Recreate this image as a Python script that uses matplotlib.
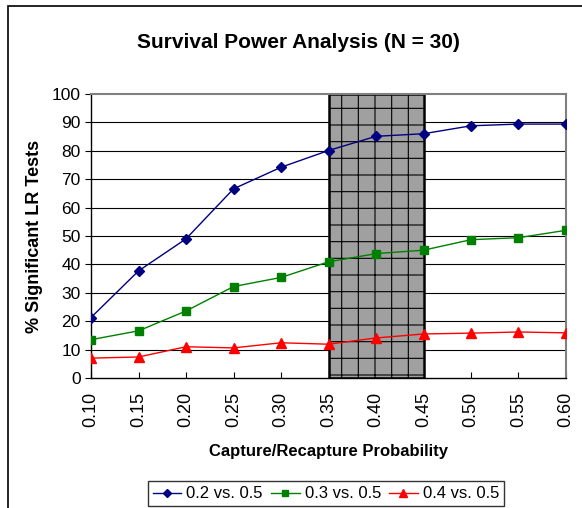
import matplotlib
matplotlib.use('Agg')
import matplotlib.pyplot as plt
from matplotlib.patches import Rectangle

plt.rcParams['font.family'] = ['Liberation Sans', 'DejaVu Sans']
plt.rcParams['hatch.linewidth'] = 0.8

# capture/recapture probability
prob = [0.10, 0.15, 0.20, 0.25, 0.30, 0.35, 0.40, 0.45, 0.50, 0.55, 0.60]
xlabels = ['0.10', '0.15', '0.20', '0.25', '0.30', '0.35', '0.40', '0.45', '0.50', '0.55', '0.60']

# % significant LR tests
s02 = [21.3, 37.7, 49.0, 66.6, 74.2, 80.1, 85.1, 86.0, 88.8, 89.4, 89.4]
s03 = [13.5, 16.6, 23.6, 32.2, 35.4, 40.9, 43.8, 45.0, 48.7, 49.4, 52.0]
s04 = [7.0, 7.4, 11.0, 10.6, 12.4, 11.9, 14.1, 15.5, 15.8, 16.2, 15.9]
series_names = ['0.2 vs. 0.5', '0.3 vs. 0.5', '0.4 vs. 0.5']

shade_lo = 0.35
shade_hi = 0.45

fig = plt.figure(figsize=(5.82, 5.08), dpi=100)
ax = fig.add_axes([0.1564, 0.2559, 0.9725 - 0.1564, 0.815 - 0.2559])

# chart area border (left + top visible)
fig.patches.append(Rectangle((8/582, -0.05), 1.0, 1 - 6/508 + 0.05, transform=fig.transFigure,
                             fill=False, edgecolor='black', linewidth=1.2))

for yv in range(10, 100, 10):
    ax.axhline(yv, color='black', linewidth=0.8, zorder=1)

ax.add_patch(Rectangle((shade_lo, 0), shade_hi - shade_lo, 100, facecolor='#a0a0a0',
                       edgecolor='black', hatch='+', linewidth=1.8, zorder=2))

ax.plot(prob, s02, color='#000080', marker='D', markersize=5, linewidth=1, label=series_names[0], zorder=3)
ax.plot(prob, s03, color='#008000', marker='s', markersize=6, linewidth=1, label=series_names[1], zorder=3)
ax.plot(prob, s04, color='#ff0000', marker='^', markersize=6.5, linewidth=1, label=series_names[2], zorder=3)

ax.set_xlim(0.10, 0.60)
ax.set_ylim(0, 100)
ax.set_xticks(prob)
ax.set_xticklabels(xlabels, rotation=90, fontsize=13)
ax.set_yticks(range(0, 101, 10))
ax.tick_params(axis='y', labelsize=12.5, direction='out', length=4, width=0.8)
ax.tick_params(axis='x', direction='in', length=4, width=0.8, pad=10)

ax.spines['top'].set_color('#808080')
ax.spines['right'].set_color('#808080')
ax.spines['top'].set_linewidth(1.5)
ax.spines['right'].set_linewidth(1.5)
ax.spines['left'].set_linewidth(1)
ax.spines['bottom'].set_linewidth(1)

ax.set_xlabel('Capture/Recapture Probability', fontsize=12, fontweight='bold', labelpad=12)
ax.set_ylabel('% Significant LR Tests', fontsize=13, fontweight='bold', labelpad=6)
fig.text(298/582, 1 - 42/508, 'Survival Power Analysis (N = 30)', ha='center', va='center',
         fontsize=15, fontweight='bold')

leg = fig.legend(loc='lower center', bbox_to_anchor=(326/582, 0.0), ncol=3, fontsize=12,
                 frameon=True, fancybox=False, edgecolor='black', handlelength=1.7,
                 handletextpad=0.3, columnspacing=0.5, borderpad=0.3, borderaxespad=0.1,
                 markerscale=0.8)
leg.get_frame().set_linewidth(1)

fig.savefig('out.png', dpi=100)
